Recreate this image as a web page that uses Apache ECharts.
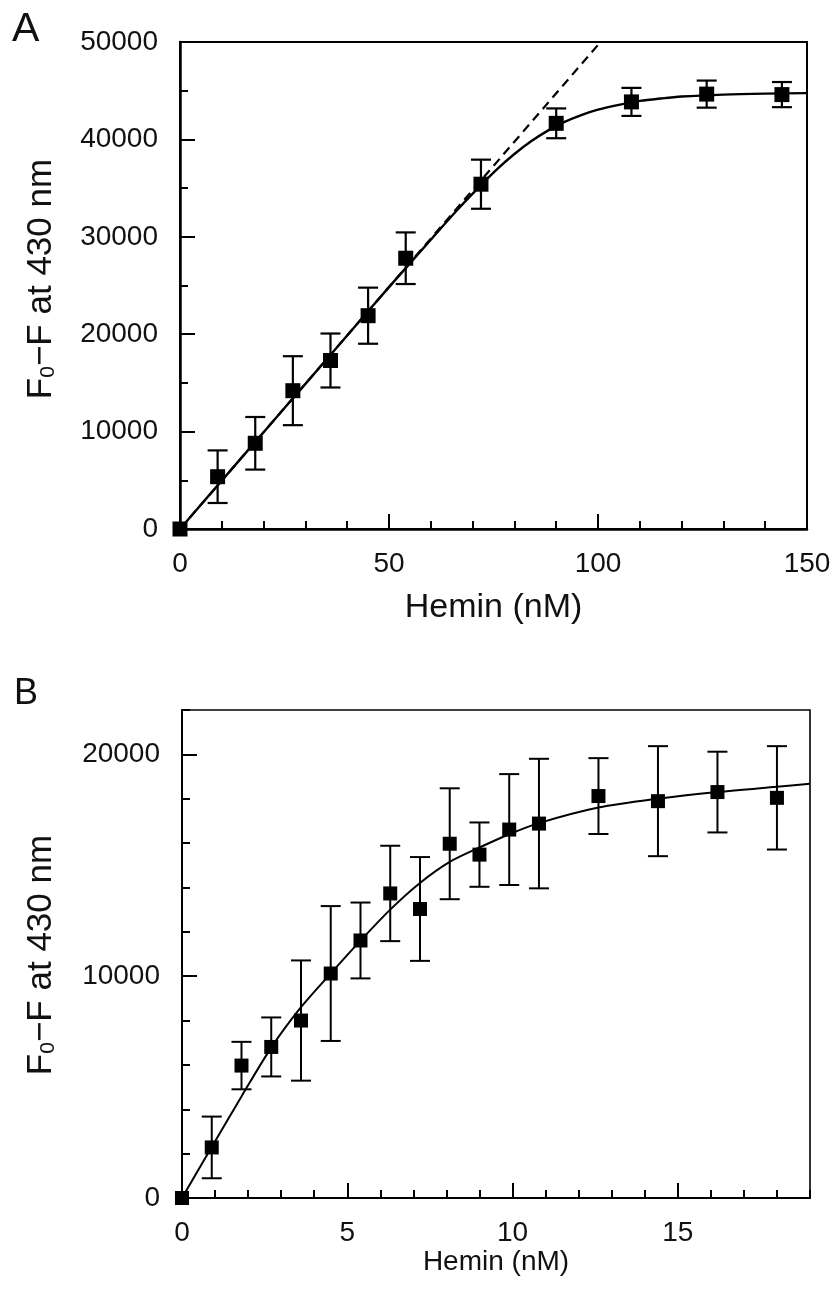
<!DOCTYPE html>
<html>
<head>
<meta charset="utf-8">
<script src="https://cdn.jsdelivr.net/npm/echarts@6/dist/echarts.min.js"></script>
<style>
html,body{margin:0;padding:0;background:#fff;}
#c{width:835px;height:1289px;}
</style>
</head>
<body>
<div id="c"></div>
<script>
// ---------- Panel A data ----------
const xA = [0, 9, 18, 27, 36, 45, 54, 72, 90, 108, 126, 144];
const yA = [0, 5370, 8800, 14200, 17300, 21900, 27800, 35400, 41650, 43850, 44650, 44600];
const errA = [0, 2700, 2700, 3540, 2770, 2880, 2650, 2520, 1530, 1440, 1390, 1290];
const fitXA = [0, 10, 20, 30, 40, 50, 60, 66, 72, 76, 80, 84, 88, 92, 96, 100, 105, 110, 115, 120, 130, 140, 150];
const fitYA = [0, 4970, 9940, 14900, 19870, 24830, 29700, 32600, 35300, 37000, 38500, 39800, 40900, 41800, 42500, 43050, 43550, 43950, 44200, 44400, 44600, 44700, 44750];
const slopeXA = [0, 100.6];
const slopeYA = [0, 50000];

// ---------- Panel B data ----------
const xB = [0, 0.9, 1.8, 2.7, 3.6, 4.5, 5.4, 6.3, 7.2, 8.1, 9.0, 9.9, 10.8, 12.6, 14.4, 16.2, 18.0];
const yB = [0, 2280, 5970, 6810, 8000, 10120, 11610, 13730, 13030, 15970, 15480, 16610, 16880, 18120, 17890, 18300, 18040];
const errB = [0, 1390, 1070, 1330, 2710, 3040, 1710, 2150, 2340, 2500, 1450, 2500, 2920, 1710, 2480, 1820, 2330];
const fitXB = [0, 0.9, 1.8, 2.7, 3.6, 4.5, 5.4, 6.3, 7.2, 8.1, 9.0, 9.9, 10.8, 12.6, 14.4, 16.2, 18.0, 19.0];
const fitYB = [0, 2300, 4580, 6780, 8600, 10120, 11600, 13000, 14200, 15150, 15800, 16400, 16900, 17600, 18000, 18300, 18540, 18670];

// ---------- labels ----------
const xTitle = 'Hemin (nM)';
const yTitleParts = ['F', '0', '\u2212F at 430 nm'];

const FONT = 'Liberation Sans, Arial, sans-serif';
const zip = (xs, ys) => xs.map((x, i) => [x, ys[i]]);
const errData = (xs, ys, es) => xs.map((x, i) => [x, ys[i] - es[i], ys[i] + es[i]]).filter((d, i) => es[i] > 0);
const plain = v => String(v);

function errRender(cap, lw) {
  return function (params, api) {
    const x = api.value(0), lo = api.value(1), hi = api.value(2);
    const a = api.coord([x, hi]), b = api.coord([x, lo]);
    const st = { stroke: '#000', lineWidth: lw };
    return {
      type: 'group', children: [
        { type: 'line', shape: { x1: a[0], y1: a[1], x2: b[0], y2: b[1] }, style: st },
        { type: 'line', shape: { x1: a[0] - cap, y1: a[1], x2: a[0] + cap, y2: a[1] }, style: st },
        { type: 'line', shape: { x1: b[0] - cap, y1: b[1], x2: b[0] + cap, y2: b[1] }, style: st }
      ]
    };
  };
}

function yTitleGraphic(cx, cy) {
  return {
    type: 'text', x: cx, y: cy, rotation: Math.PI / 2,
    style: {
      text: '{a|' + yTitleParts[0] + '}{s|' + yTitleParts[1] + '}{a|' + yTitleParts[2] + '}',
      align: 'center', verticalAlign: 'middle', fill: '#111',
      rich: {
        a: { fontSize: 35, lineHeight: 36, fontFamily: FONT, fill: '#111' },
        s: { fontSize: 21, lineHeight: 22, padding: [14, 0, 0, 0], fontFamily: FONT, fill: '#111' }
      }
    }
  };
}

function majorX(grid, min, max, interval, lw, nameSize, nameGap) {
  return {
    type: 'value', gridIndex: grid, position: 'bottom', min: min, max: max, interval: interval,
    axisLine: { show: true, onZero: false, lineStyle: { color: '#000', width: lw } },
    axisTick: { show: true, inside: true, length: 15, lineStyle: { color: '#000', width: 2 } },
    axisLabel: { show: true, margin: 21, fontSize: 28, color: '#111', fontFamily: FONT, formatter: plain,
      showMaxLabel: max % interval === 0, showMinLabel: true },
    splitLine: { show: false },
    name: xTitle, nameLocation: 'middle', nameGap: nameGap,
    nameTextStyle: { fontSize: nameSize, color: '#111', fontFamily: FONT }
  };
}
function minorX(grid, min, max, interval) {
  return {
    type: 'value', gridIndex: grid, position: 'bottom', min: min, max: max, interval: interval,
    axisLine: { show: false, onZero: false },
    axisTick: { show: true, inside: true, length: 8, lineStyle: { color: '#000', width: 2 } },
    axisLabel: { show: false }, splitLine: { show: false }
  };
}
function majorY(grid, min, max, interval, lw) {
  return {
    type: 'value', gridIndex: grid, position: 'left', min: min, max: max, interval: interval,
    axisLine: { show: true, onZero: false, lineStyle: { color: '#000', width: lw } },
    axisTick: { show: true, inside: true, length: 15, lineStyle: { color: '#000', width: 2 } },
    axisLabel: { show: true, margin: 22, fontSize: 28, color: '#111', fontFamily: FONT, formatter: plain,
      showMaxLabel: max % interval === 0, showMinLabel: true },
    splitLine: { show: false }
  };
}
function minorY(grid, min, max, interval) {
  return {
    type: 'value', gridIndex: grid, position: 'left', min: min, max: max, interval: interval,
    axisLine: { show: false, onZero: false },
    axisTick: { show: true, inside: true, length: 8, lineStyle: { color: '#000', width: 2 } },
    axisLabel: { show: false }, splitLine: { show: false }
  };
}

const chart = echarts.init(document.getElementById('c'), null, { renderer: 'canvas' });
chart.setOption({
  animation: false,
  backgroundColor: '#fff',
  graphic: [
    { type: 'text', left: 12, top: 9, style: { text: 'A', font: '41px ' + FONT, fill: '#111' } },
    { type: 'text', left: 14, top: 676, style: { text: 'B', font: '36px ' + FONT, fill: '#111' } },
    yTitleGraphic(41, 279),
    yTitleGraphic(41, 955)
  ],
  grid: [
    { left: 180, top: 42, right: 28, height: 487, show: true, borderColor: '#000', borderWidth: 2, backgroundColor: 'transparent', containLabel: false },
    { left: 182, top: 710, right: 25, height: 488, show: true, borderColor: '#000', borderWidth: 1.6, backgroundColor: 'transparent', containLabel: false }
  ],
  xAxis: [
    majorX(0, 0, 150, 50, 2.5, 34, 62),
    minorX(0, 0, 150, 10),
    majorX(1, 0, 19, 5, 2, 28, 49),
    minorX(1, 0, 19, 1)
  ],
  yAxis: [
    majorY(0, 0, 50000, 10000, 2.5),
    minorY(0, 0, 50000, 5000),
    majorY(1, 0, 22000, 10000, 2),
    minorY(1, 0, 22000, 2000)
  ],
  series: [
    // Panel A
    { type: 'line', xAxisIndex: 0, yAxisIndex: 0, data: zip(slopeXA, slopeYA), showSymbol: false, symbol: 'none', clip: true,
      lineStyle: { color: '#000', width: 2.2, type: [9, 6] }, z: 2 },
    { type: 'line', xAxisIndex: 0, yAxisIndex: 0, data: zip(fitXA, fitYA), showSymbol: false, symbol: 'none', smooth: 0.3, clip: true,
      lineStyle: { color: '#000', width: 2.4 }, z: 3 },
    { type: 'custom', xAxisIndex: 0, yAxisIndex: 0, data: errData(xA, yA, errA), renderItem: errRender(10, 2.2),
      encode: { x: 0, y: [1, 2] }, z: 4 },
    { type: 'scatter', xAxisIndex: 0, yAxisIndex: 0, data: zip(xA, yA), symbol: 'rect', symbolSize: 15,
      itemStyle: { color: '#000', opacity: 1 }, z: 5, clip: false },
    // Panel B
    { type: 'line', xAxisIndex: 2, yAxisIndex: 2, data: zip(fitXB, fitYB), showSymbol: false, symbol: 'none', smooth: 0.3, clip: true,
      lineStyle: { color: '#000', width: 2 }, z: 3 },
    { type: 'custom', xAxisIndex: 2, yAxisIndex: 2, data: errData(xB, yB, errB), renderItem: errRender(10, 2),
      encode: { x: 0, y: [1, 2] }, z: 4 },
    { type: 'scatter', xAxisIndex: 2, yAxisIndex: 2, data: zip(xB, yB), symbol: 'rect', symbolSize: 14,
      itemStyle: { color: '#000', opacity: 1 }, z: 5, clip: false }
  ]
});
</script>
</body>
</html>
